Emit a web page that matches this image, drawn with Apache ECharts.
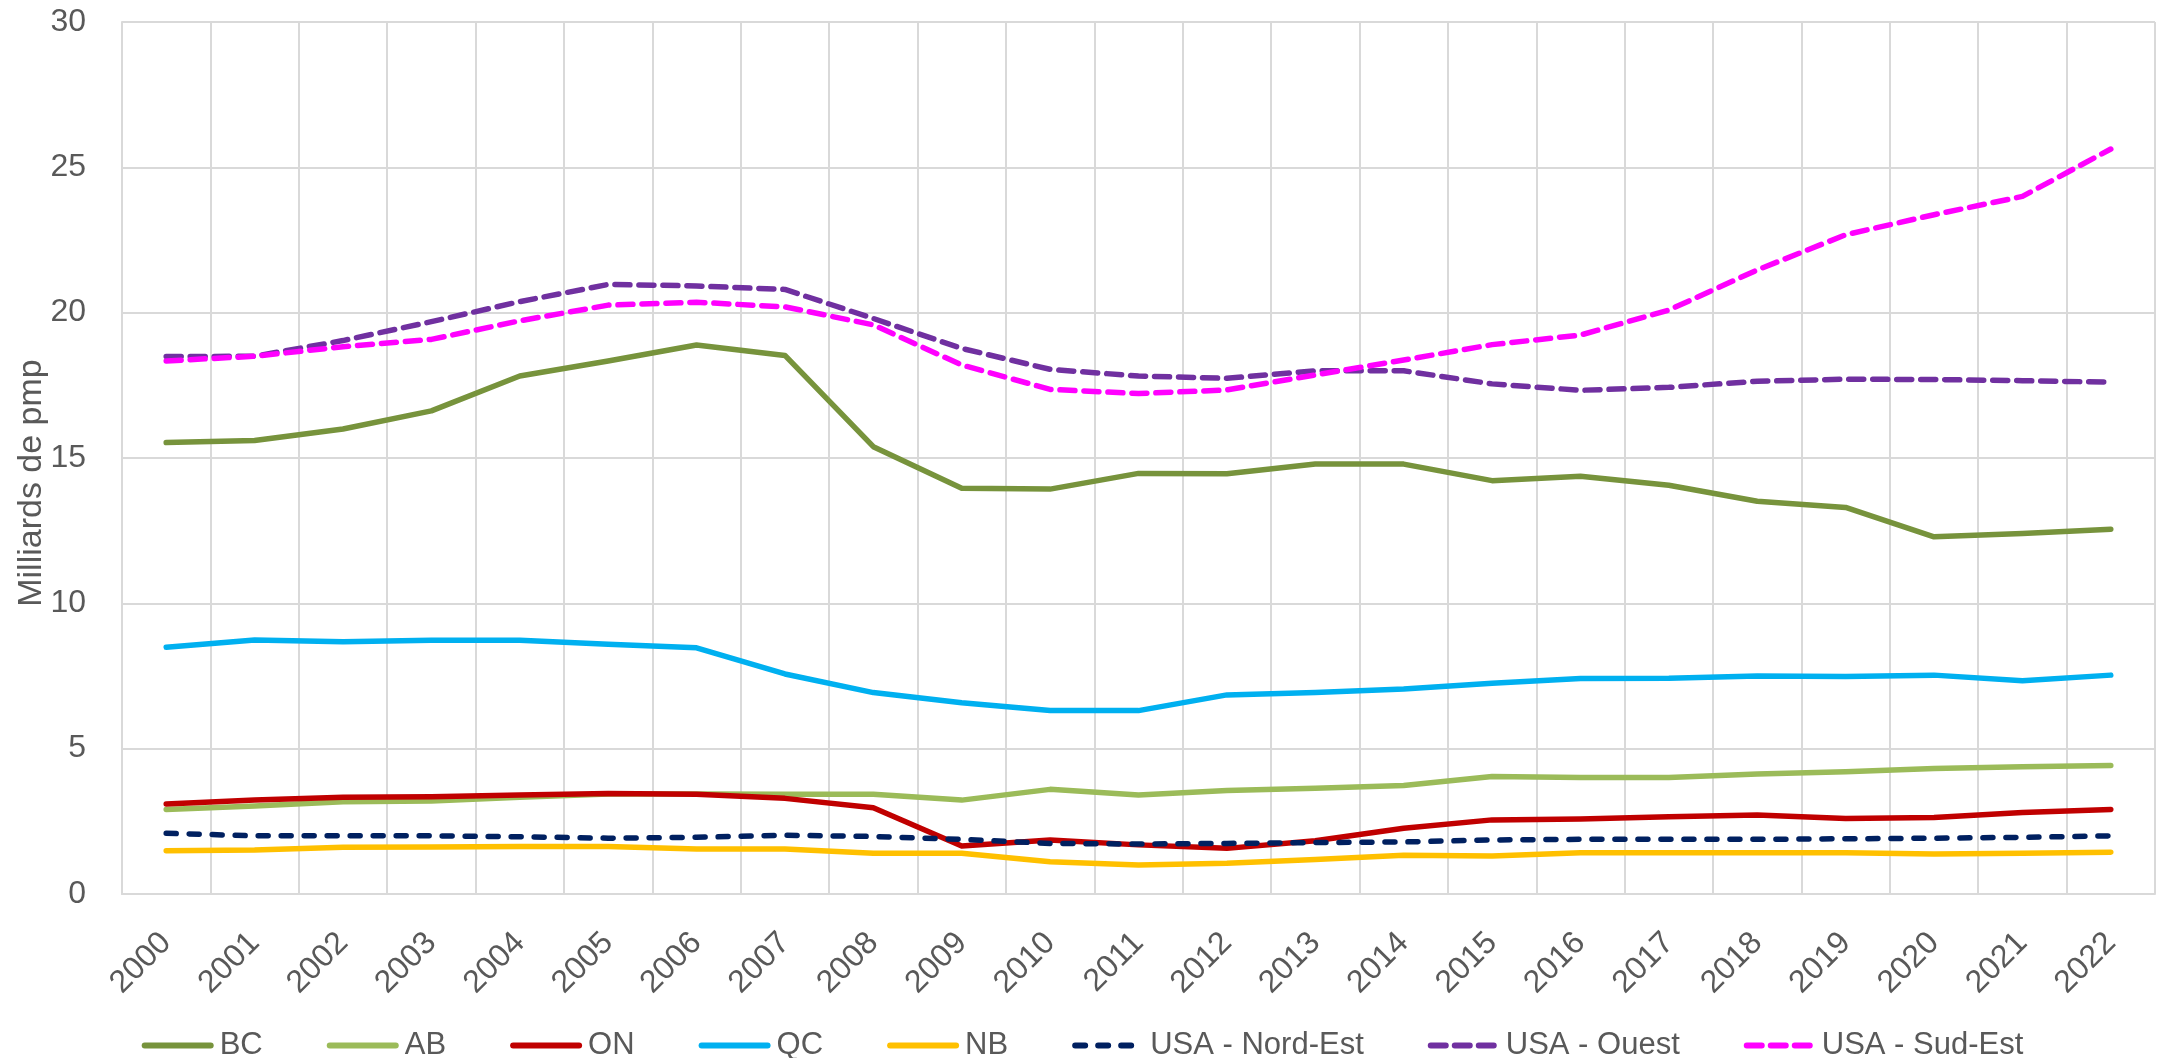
<!DOCTYPE html>
<html>
<head>
<meta charset="utf-8">
<script src="https://cdn.jsdelivr.net/npm/echarts@6/dist/echarts.min.js"></script>
<style>
  html, body { margin: 0; padding: 0; background: #fff; }
  #chart { width: 2165px; height: 1058px; }
</style>
</head>
<body>
<div id="chart"></div>
<script>
  // années
  var years = ['2000','2001','2002','2003','2004','2005','2006','2007','2008','2009','2010','2011',
               '2012','2013','2014','2015','2016','2017','2018','2019','2020','2021','2022'];

  // milliards de pmp
  var bc = [15.53, 15.6, 16.0, 16.62, 17.82, 18.34, 18.89, 18.53, 15.39, 13.96, 13.93, 14.47,
            14.46, 14.79, 14.79, 14.22, 14.37, 14.06, 13.51, 13.3, 12.29, 12.4, 12.55];
  var ab = [2.91, 3.03, 3.17, 3.2, 3.33, 3.44, 3.44, 3.43, 3.43, 3.23, 3.6, 3.41,
            3.56, 3.64, 3.73, 4.04, 4.01, 4.01, 4.13, 4.21, 4.32, 4.38, 4.42];
  var on = [3.1, 3.23, 3.33, 3.35, 3.41, 3.46, 3.43, 3.29, 2.97, 1.65, 1.86, 1.69,
            1.57, 1.83, 2.26, 2.55, 2.58, 2.66, 2.72, 2.6, 2.63, 2.8, 2.91];
  var qc = [8.49, 8.74, 8.68, 8.73, 8.73, 8.59, 8.47, 7.57, 6.93, 6.58, 6.31, 6.31,
            6.85, 6.93, 7.05, 7.25, 7.41, 7.42, 7.5, 7.48, 7.53, 7.34, 7.53];
  var nb = [1.49, 1.51, 1.61, 1.62, 1.63, 1.63, 1.55, 1.55, 1.4, 1.4, 1.11, 1.0,
            1.06, 1.19, 1.33, 1.31, 1.42, 1.42, 1.42, 1.42, 1.38, 1.4, 1.44];
  var usaNordEst = [2.09, 2.0, 2.0, 2.0, 1.97, 1.92, 1.95, 2.02, 1.98, 1.88, 1.74, 1.72,
                    1.74, 1.77, 1.79, 1.86, 1.88, 1.88, 1.88, 1.9, 1.92, 1.95, 2.0];
  var usaOuest = [18.49, 18.5, 19.04, 19.69, 20.38, 20.97, 20.92, 20.8, 19.8, 18.77, 18.05, 17.82,
                  17.74, 18.0, 18.0, 17.55, 17.33, 17.43, 17.64, 17.71, 17.7, 17.66, 17.61];
  var usaSudEst = [18.34, 18.5, 18.83, 19.08, 19.72, 20.26, 20.36, 20.2, 19.58, 18.2, 17.36, 17.22,
                   17.34, 17.86, 18.37, 18.9, 19.23, 20.09, 21.47, 22.68, 23.37, 24.0, 25.63];

  var yTicks = { min: 0, max: 30, interval: 5 };

  var txt = '#595959';
  var grid = '#d9d9d9';
  var font = 'Liberation Sans';

  function line(name, data, color, dash) {
    return {
      name: name,
      type: 'line',
      data: data,
      symbol: 'none',
      smooth: false,
      lineStyle: { color: color, width: 5.5, type: dash || 'solid', cap: 'round', join: 'round' },
      itemStyle: { color: color }
    };
  }

  var chart = echarts.init(document.getElementById('chart'));
  chart.setOption({
    backgroundColor: '#fff',
    animation: false,
    grid: { left: 122, right: 10, top: 22, bottom: 164 },
    legend: {
      top: 1025,
      left: 'center',
      itemWidth: 66,
      itemHeight: 14,
      itemGap: 64,
      itemStyle: { opacity: 0 },   // pas de pastille, seulement le trait
      lineStyle: { width: 6, cap: 'round' },
      textStyle: { color: txt, fontSize: 31, fontFamily: font, padding: [0, 0, 0, 4] },
      data: ['BC', 'AB', 'ON', 'QC', 'NB', 'USA - Nord-Est', 'USA - Ouest', 'USA - Sud-Est']
    },
    xAxis: {
      type: 'category',
      data: years,
      boundaryGap: true,
      axisLine: { lineStyle: { color: grid, width: 2 } },
      axisTick: { show: false },
      axisLabel: { rotate: 45, interval: 0, margin: 44, color: txt, fontSize: 32, fontFamily: font },
      splitLine: { show: true, lineStyle: { color: grid, width: 2 } }
    },
    yAxis: {
      type: 'value',
      min: yTicks.min,
      max: yTicks.max,
      interval: yTicks.interval,
      axisLine: { show: true, lineStyle: { color: grid, width: 2 } },
      axisTick: { show: false },
      axisLabel: { margin: 36, color: txt, fontSize: 32, fontFamily: font },
      splitLine: { lineStyle: { color: grid, width: 2 } }
    },
    graphic: [{
      type: 'text',
      x: 32,
      y: 483,
      rotation: Math.PI / 2,
      style: {
        text: 'Milliards de pmp',
        fill: txt,
        font: '34px "Liberation Sans"',
        textAlign: 'center',
        textVerticalAlign: 'middle'
      }
    }],
    series: [
      line('BC', bc, '#77933C'),
      line('AB', ab, '#9BBB59'),
      line('ON', on, '#C00000'),
      line('QC', qc, '#00B0F0'),
      line('NB', nb, '#FFC000'),
      line('USA - Nord-Est', usaNordEst, '#002060', [10, 13]),
      line('USA - Ouest', usaOuest, '#7030A0', [15, 9]),
      line('USA - Sud-Est', usaSudEst, '#FF00FF', [15, 9])
    ]
  });
</script>
</body>
</html>
